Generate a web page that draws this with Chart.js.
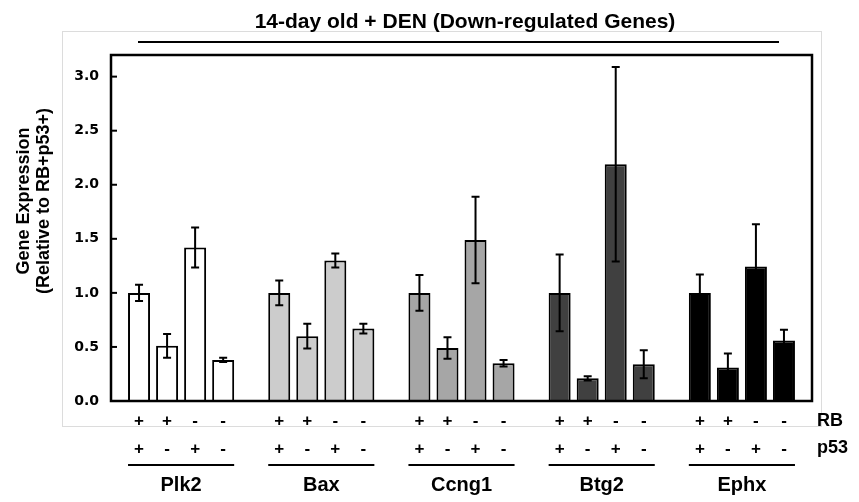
<!DOCTYPE html>
<html><head><meta charset="utf-8">
<script src="https://cdn.jsdelivr.net/npm/chart.js@4.4.1/dist/chart.umd.min.js"></script>
<style>html,body{margin:0;padding:0;background:#fff;overflow:hidden;}</style>
</head><body>
<canvas id="c" width="859" height="502"></canvas>
<script>
const titleText = '14-day old + DEN (Down-regulated Genes)';
const yTitle = ['Gene Expression', '(Relative to RB+p53+)'];
const genes = ['Plk2', 'Bax', 'Ccng1', 'Btg2', 'Ephx'];
const rbSigns = ['+', '+', '-', '-'];
const p53Signs = ['+', '-', '+', '-'];
const plk2Mean = [1.00, 0.51, 1.42, 0.38];
const plk2Err = [0.075, 0.11, 0.185, 0.02];
const baxMean = [1.00, 0.60, 1.30, 0.67];
const baxErr = [0.115, 0.115, 0.065, 0.045];
const ccng1Mean = [1.00, 0.49, 1.49, 0.35];
const ccng1Err = [0.165, 0.10, 0.40, 0.03];
const btg2Mean = [1.00, 0.21, 2.19, 0.34];
const btg2Err = [0.355, 0.02, 0.90, 0.13];
const ephxMean = [1.00, 0.31, 1.245, 0.56];
const ephxErr = [0.17, 0.13, 0.39, 0.10];
const geneColors = ['#ffffff', '#cccccc', '#a6a6a6', '#404040', '#000000'];
const yTickValues = [0, 0.5, 1.0, 1.5, 2.0, 2.5, 3.0];

const means = [plk2Mean, baxMean, ccng1Mean, btg2Mean, ephxMean];
const errs = [plk2Err, baxErr, ccng1Err, btg2Err, ephxErr];

// category slots: leading blank, 4 bars per gene, blank gap after each gene
const labels = [''];
const values = [null];
const errors = [null];
const colors = ['#fff'];
const groupIdx = [];
genes.forEach((g, gi) => {
  const start = labels.length;
  for (let k = 0; k < 4; k++) {
    labels.push([rbSigns[k], p53Signs[k]]);
    values.push(means[gi][k]);
    errors.push(errs[gi][k]);
    colors.push(geneColors[gi]);
  }
  groupIdx.push([start, labels.length - 1]);
  labels.push('');
  values.push(null);
  errors.push(null);
  colors.push('#fff');
});

const FAM = '"Liberation Sans", Arial, sans-serif';
const decor = {
  id: 'decor',
  beforeDraw(chart) {
    const ctx = chart.ctx;
    ctx.save();
    ctx.strokeStyle = '#dcdcdc';
    ctx.lineWidth = 1;
    ctx.strokeRect(62.5, 31.5, 759, 395);
    ctx.restore();
  },
  afterDatasetsDraw(chart) {
    const ctx = chart.ctx;
    const ys = chart.scales.y;
    const meta = chart.getDatasetMeta(0);
    ctx.save();
    ctx.strokeStyle = '#000';
    ctx.lineWidth = 2;
    meta.data.forEach((el, i) => {
      const v = values[i], e = errors[i];
      if (v == null) return;
      const x = el.x;
      const t = ys.getPixelForValue(v + e), b = ys.getPixelForValue(v - e);
      ctx.beginPath();
      ctx.moveTo(x, t); ctx.lineTo(x, b);
      ctx.moveTo(x - 4, t); ctx.lineTo(x + 4, t);
      ctx.moveTo(x - 4, b); ctx.lineTo(x + 4, b);
      ctx.stroke();
    });
    ctx.restore();
  },
  afterDraw(chart) {
    const ctx = chart.ctx;
    const a = chart.chartArea;
    const ys = chart.scales.y;
    ctx.save();
    ctx.strokeStyle = '#000';
    ctx.fillStyle = '#000';
    // frame
    ctx.lineWidth = 2.5;
    ctx.strokeRect(a.left, a.top, a.right - a.left, a.bottom - a.top);
    // inward ticks
    ctx.lineWidth = 2;
    ys.ticks.forEach(t => {
      const y = ys.getPixelForValue(t.value);
      ctx.beginPath(); ctx.moveTo(a.left, y); ctx.lineTo(a.left + 6, y); ctx.stroke();
    });
    // title + underline
    ctx.font = 'bold 21px ' + FAM;
    ctx.textAlign = 'center';
    ctx.textBaseline = 'alphabetic';
    ctx.fillText(titleText, 465, 28);
    ctx.beginPath(); ctx.moveTo(138, 42); ctx.lineTo(779, 42); ctx.stroke();
    // y title
    ctx.font = 'bold 18px ' + FAM;
    ctx.translate(0, 201);
    ctx.rotate(-Math.PI / 2);
    ctx.fillText(yTitle[0], 0, 29);
    ctx.fillText(yTitle[1], 0, 49);
    ctx.setTransform(1, 0, 0, 1, 0, 0);
    // row labels
    ctx.textAlign = 'left';
    ctx.font = 'bold 18px ' + FAM;
    ctx.fillText('RB', 817, 426);
    ctx.fillText('p53', 817, 453);
    // group underlines and names
    ctx.textAlign = 'center';
    ctx.font = 'bold 20px ' + FAM;
    const meta = chart.getDatasetMeta(0);
    groupIdx.forEach((pair, gi) => {
      const e1 = meta.data[pair[0]], e2 = meta.data[pair[1]];
      const l = e1.x - e1.width / 2, r = e2.x + e2.width / 2;
      ctx.beginPath(); ctx.moveTo(l, 465); ctx.lineTo(r, 465); ctx.stroke();
      ctx.fillText(genes[gi], (l + r) / 2, 491);
    });
    ctx.restore();
  }
};

new Chart(document.getElementById('c'), {
  type: 'bar',
  data: {
    labels: labels,
    datasets: [{
      data: values,
      backgroundColor: colors,
      borderColor: '#000',
      borderWidth: 2,
      barPercentage: 0.785,
      categoryPercentage: 1.0
    }]
  },
  options: {
    responsive: false,
    animation: false,
    devicePixelRatio: 1,
    layout: { padding: { left: 0, right: 47, top: 55, bottom: 0 } },
    plugins: {
      legend: { display: false },
      tooltip: { enabled: false },
      title: { display: false }
    },
    scales: {
      x: {
        type: 'category',
        offset: false,
        grid: { display: false, drawTicks: false },
        border: { display: false },
        ticks: {
          autoSkip: false,
          maxRotation: 0,
          minRotation: 0,
          padding: 6,
          color: '#000',
          font: { family: FAM, size: 17, weight: 'bold', lineHeight: 1.65 }
        },
        afterFit(s) { s.height = 101; }
      },
      y: {
        min: 0,
        max: 3.2,
        grid: { display: false, drawTicks: false },
        border: { display: false },
        afterBuildTicks(s) { s.ticks = yTickValues.map(v => ({ value: v })); },
        ticks: {
          padding: 12,
          color: '#000',
          font: { family: '"DejaVu Sans", Verdana, sans-serif', size: 14, weight: 'bold' },
          callback: v => Number(v).toFixed(1)
        },
        afterFit(s) { s.width = 111; }
      }
    }
  },
  plugins: [decor]
});
</script>
</body></html>
